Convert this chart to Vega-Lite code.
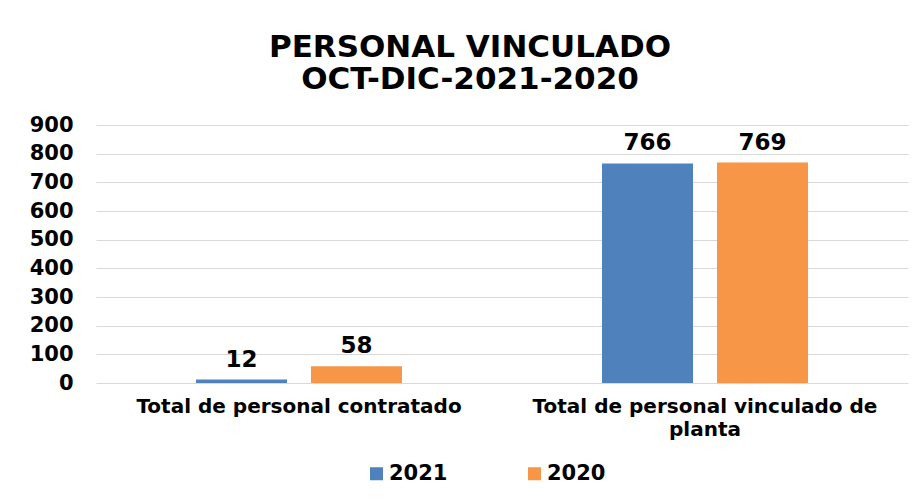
{
  "$schema": "https://vega.github.io/schema/vega-lite/v6.json",
  "width": 812,
  "height": 258,
  "autosize": {"type": "none"},
  "padding": {"left": 96, "top": 125, "right": 15, "bottom": 117},
  "background": "white",
  "title": {
    "text": ["PERSONAL VINCULADO", "OCT-DIC-2021-2020"],
    "font": "DejaVu Sans",
    "fontWeight": "bold",
    "fontSize": 31,
    "color": "#000000",
    "lineHeight": 32,
    "anchor": "middle",
    "dx": -32,
    "offset": 18
  },
  "data": {
    "values": [
      {"categoria": "Total de personal contratado", "anio": "2021", "valor": 12},
      {"categoria": "Total de personal contratado", "anio": "2020", "valor": 58},
      {"categoria": "Total de personal vinculado de planta", "anio": "2021", "valor": 766},
      {"categoria": "Total de personal vinculado de planta", "anio": "2020", "valor": 769}
    ]
  },
  "encoding": {
    "x": {
      "field": "categoria",
      "type": "nominal",
      "sort": null,
      "title": null,
      "scale": {"paddingInner": 0, "paddingOuter": 0},
      "axis": {
        "domain": false,
        "ticks": false,
        "labelAngle": 0,
        "labelFont": "DejaVu Sans",
        "labelFontWeight": "bold",
        "labelFontSize": 20,
        "labelColor": "#000000",
        "labelPadding": 13,
        "labelLimit": 0,
        "labelLineHeight": 23,
        "labelExpr": "datum.label == 'Total de personal vinculado de planta' ? ['Total de personal vinculado de', 'planta'] : datum.label"
      }
    },
    "xOffset": {
      "field": "anio",
      "type": "nominal",
      "sort": ["2021", "2020"],
      "scale": {"paddingInner": 0.2087, "paddingOuter": 0.8694}
    },
    "y": {
      "field": "valor",
      "type": "quantitative",
      "title": null,
      "scale": {"domain": [0, 900], "nice": false},
      "axis": {
        "values": [0, 100, 200, 300, 400, 500, 600, 700, 800, 900],
        "domain": false,
        "ticks": false,
        "grid": true,
        "gridColor": "#d9d9d9",
        "gridWidth": 1.2,
        "labelFont": "DejaVu Sans",
        "labelFontWeight": "bold",
        "labelFontSize": 21,
        "labelColor": "#000000",
        "labelPadding": 23
      }
    }
  },
  "layer": [
    {
      "mark": {"type": "bar"},
      "encoding": {
        "color": {
          "field": "anio",
          "type": "nominal",
          "sort": ["2021", "2020"],
          "scale": {"domain": ["2021", "2020"], "range": ["#4F81BD", "#F79646"]},
          "legend": {
            "title": null,
            "orient": "none",
            "direction": "horizontal",
            "legendX": 270,
            "legendY": 338,
            "symbolType": "square",
            "symbolSize": 169,
            "symbolStrokeWidth": 0,
            "labelFont": "DejaVu Sans",
            "labelFontWeight": "bold",
            "labelFontSize": 21,
            "labelColor": "#000000",
            "labelOffset": 2,
            "columnPadding": 76
          }
        }
      }
    },
    {
      "mark": {
        "type": "text",
        "font": "DejaVu Sans",
        "fontWeight": "bold",
        "fontSize": 23,
        "color": "#000000",
        "baseline": "alphabetic",
        "dy": -13
      },
      "encoding": {
        "text": {"field": "valor", "type": "quantitative"}
      }
    }
  ],
  "config": {
    "view": {"stroke": null}
  }
}
